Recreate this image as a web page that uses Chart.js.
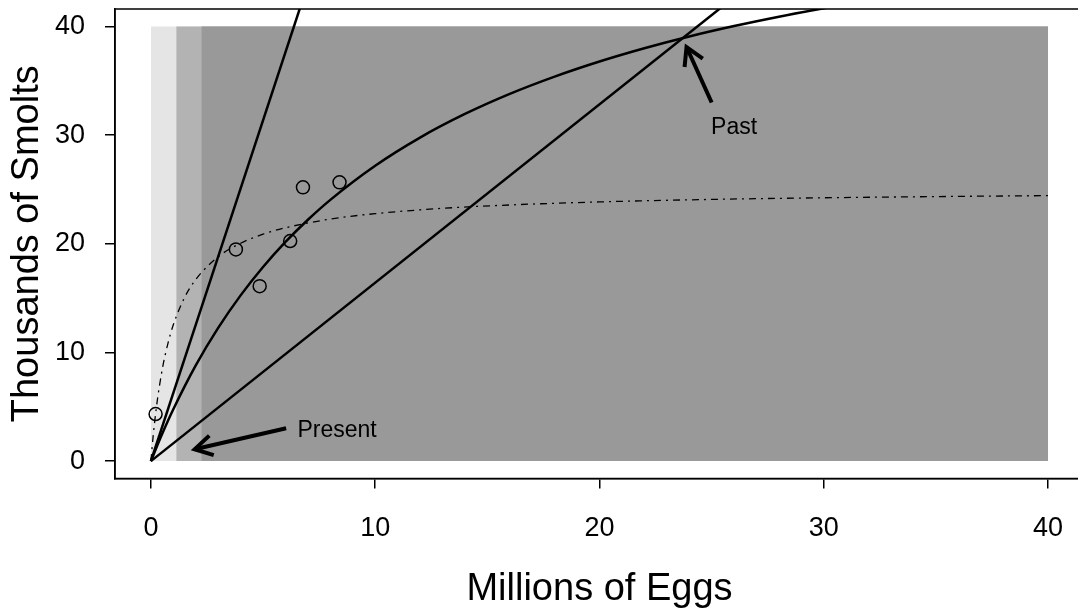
<!DOCTYPE html>
<html>
<head>
<meta charset="utf-8">
<title>Smolts vs Eggs</title>
<script src="https://cdn.jsdelivr.net/npm/chart.js@4"></script>
<style>
  html, body { margin: 0; padding: 0; background: #fff; overflow: hidden; }
  #wrap { width: 1078px; height: 613px; overflow: hidden; }
</style>
</head>
<body>
<div id="wrap"><canvas id="stock-recruit" width="1100" height="613"></canvas></div>
<script>
// axis ticks
var xTicks = [0, 10, 20, 30, 40];
var yTicks = [0, 10, 20, 30, 40];

// observed points (millions of eggs, thousands of smolts)
var eggs = [0.21, 3.79, 4.85, 6.21, 6.78, 8.41];
var smolts = [4.33, 19.48, 16.1, 20.25, 25.19, 25.65];

// shaded zones: each starts at zoneStart and runs to zoneEnd, 0..zoneTop
var zoneStart = [0, 1.13, 2.25];
var zoneEnd = 40;
var zoneTop = 40;

// straight replacement lines through the origin
var steepX = [0, 7.0];
var steepY = [0, 43.9];
var shallowX = [0, 26.5];
var shallowY = [0, 43.5];

// solid fitted curve ("past")
var pastX = [0, 0.5, 1, 2, 3, 4, 5, 6, 7, 8, 10, 12, 14, 16, 18, 20, 22, 24, 26, 28, 30, 31];
var pastY = [0, 2.49, 4.77, 8.81, 12.26, 15.25, 17.86, 20.17, 22.21, 24.04, 27.18, 29.77, 31.94, 33.79, 35.38, 36.77, 37.99, 39.07, 40.03, 40.89, 41.67, 42.03];

// dash-dot fitted curve ("present")
var nowX = [0, 0.1, 0.25, 0.5, 0.75, 1, 1.5, 2, 3, 4, 5, 6, 8, 10, 13, 16, 20, 25, 30, 35, 40];
var nowY = [0, 2.28, 5.02, 8.37, 10.75, 12.54, 15.05, 16.71, 18.8, 20.05, 20.88, 21.47, 22.27, 22.77, 23.26, 23.57, 23.85, 24.08, 24.23, 24.34, 24.43];

// annotation arrows: [tail, head]
var pastArrowX = [25.0, 23.88];
var pastArrowY = [33.0, 38.1];
var presentArrowX = [6.03, 1.95];
var presentArrowY = [3.02, 1.09];

// annotation labels
var noteText = ['Past', 'Present'];
var noteX = [26.0, 8.3];
var noteY = [30.7, 2.83];

var FONT = "'Liberation Sans', Arial, Helvetica, sans-serif";

function pairs(xs, ys) {
  return xs.map(function (x, i) { return { x: x, y: ys[i] }; });
}

var zoneColors = ['#e5e5e5', '#b3b3b3', '#999999'];
var zoneSets = zoneStart.map(function (x0, i) {
  return {
    data: [{ x: x0, y: zoneTop }, { x: zoneEnd, y: zoneTop }],
    backgroundColor: zoneColors[i],
    borderWidth: 0,
    fill: 'origin',
    pointRadius: 0,
    order: 20 - i
  };
});

function lineSet(xs, ys, extra) {
  var ds = {
    data: pairs(xs, ys),
    borderColor: '#000',
    borderWidth: 2.5,
    pointRadius: 0,
    fill: false,
    order: 5
  };
  return Object.assign(ds, extra || {});
}

// no automatic label overhang padding: the plot box is placed by hand
function noOverhang(scale) {
  scale.paddingTop = 0;
  scale.paddingBottom = 0;
  scale.paddingLeft = 0;
  scale.paddingRight = 0;
}

// draws the plot box, arrow heads and the text notes
var decorations = {
  id: 'decorations',
  afterDatasetsDraw: function (chart) {
    var ctx = chart.ctx;
    var a = chart.chartArea;
    ctx.save();
    ctx.strokeStyle = '#000';
    ctx.lineWidth = 1.5;
    ctx.strokeRect(a.left, a.top, a.right - a.left, a.bottom - a.top);

    chart.data.datasets.forEach(function (ds, i) {
      if (!ds.arrowHead) return;
      var pts = chart.getDatasetMeta(i).data;
      var tail = pts[0], tip = pts[pts.length - 1];
      var ang = Math.atan2(tip.y - tail.y, tip.x - tail.x);
      var len = 20, spread = Math.PI / 6;
      ctx.beginPath();
      ctx.moveTo(tip.x - len * Math.cos(ang - spread), tip.y - len * Math.sin(ang - spread));
      ctx.lineTo(tip.x, tip.y);
      ctx.lineTo(tip.x - len * Math.cos(ang + spread), tip.y - len * Math.sin(ang + spread));
      ctx.lineWidth = ds.borderWidth;
      ctx.lineJoin = 'miter';
      ctx.stroke();
    });

    var xs = chart.scales.x, ys = chart.scales.y;
    ctx.fillStyle = '#000';
    ctx.font = '23px ' + FONT;
    ctx.textAlign = 'center';
    ctx.textBaseline = 'middle';
    noteText.forEach(function (t, i) {
      ctx.fillText(t, xs.getPixelForValue(noteX[i]), ys.getPixelForValue(noteY[i]));
    });
    ctx.restore();
  }
};

var axisCommon = {
  type: 'linear',
  min: -1.6,
  max: 41.6,
  grid: {
    display: true,
    drawOnChartArea: false,
    drawTicks: true,
    tickLength: 10,
    color: '#000',
    lineWidth: 1.5
  },
  border: { display: true, color: '#000', width: 1.5 }
};

new Chart(document.getElementById('stock-recruit').getContext('2d'), {
  type: 'line',
  data: {
    datasets: zoneSets.concat([
      lineSet(steepX, steepY),
      lineSet(shallowX, shallowY),
      lineSet(pastX, pastY, { cubicInterpolationMode: 'monotone' }),
      lineSet(nowX, nowY, { cubicInterpolationMode: 'monotone', borderWidth: 1.3, borderDash: [7, 5, 2, 5] }),
      lineSet(pastArrowX, pastArrowY, { borderWidth: 4, arrowHead: true, order: 2 }),
      lineSet(presentArrowX, presentArrowY, { borderWidth: 4, arrowHead: true, order: 2 }),
      {
        type: 'scatter',
        data: pairs(eggs, smolts),
        showLine: false,
        pointStyle: 'circle',
        pointRadius: 6.5,
        pointBorderWidth: 1.5,
        pointBorderColor: '#000',
        pointBackgroundColor: 'rgba(0,0,0,0)',
        order: 0
      }
    ])
  },
  options: {
    responsive: false,
    animation: false,
    events: [],
    layout: { autoPadding: false, padding: { top: 9, right: 16, left: 0, bottom: 0 } },
    plugins: {
      legend: { display: false },
      tooltip: { enabled: false }
    },
    scales: {
      x: Object.assign({}, axisCommon, {
        position: 'bottom',
        afterBuildTicks: function (scale) {
          scale.ticks = xTicks.map(function (v) { return { value: v }; });
        },
        afterFit: function (scale) { scale.height = 134.5; noOverhang(scale); },
        ticks: {
          color: '#000',
          padding: 24,
          maxRotation: 0,
          font: { size: 27, family: FONT }
        },
        title: {
          display: true,
          text: 'Millions of Eggs',
          color: '#000',
          font: { size: 38, family: FONT, lineHeight: 1 },
          padding: { top: 0, bottom: 4 }
        }
      }),
      y: Object.assign({}, axisCommon, {
        position: 'left',
        afterBuildTicks: function (scale) {
          scale.ticks = yTicks.map(function (v) { return { value: v }; });
        },
        afterFit: function (scale) { scale.width = 115; noOverhang(scale); },
        ticks: {
          color: '#000',
          padding: 20,
          font: { size: 27, family: FONT }
        },
        title: {
          display: true,
          text: 'Thousands of Smolts',
          color: '#000',
          font: { size: 38, family: FONT, lineHeight: 1 },
          padding: { top: 9, bottom: 0 }
        }
      })
    }
  },
  plugins: [decorations]
});
</script>
</body>
</html>
